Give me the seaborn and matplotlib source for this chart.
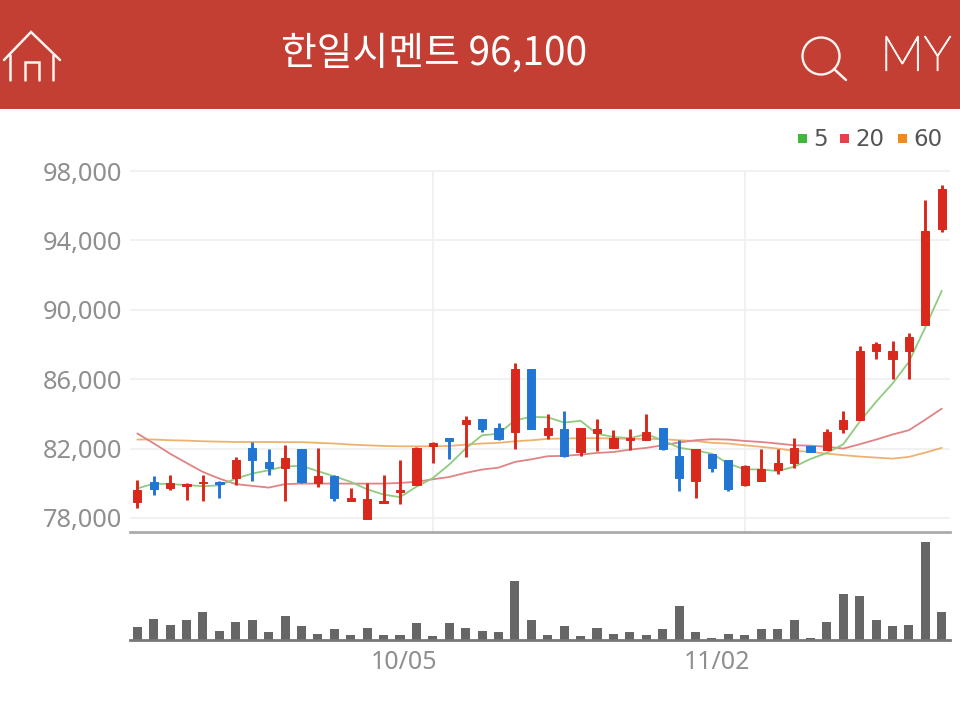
import matplotlib
matplotlib.use('Agg')
import matplotlib.pyplot as plt
import matplotlib.patheffects as pe
import matplotlib.transforms as mtrans
from matplotlib.patches import Circle, Rectangle
import numpy as np
import seaborn as sns

title = '한일시멘트 96,100'

opens = [78900, 80100, 79700, 79850, 80000, 80100, 80300, 82050, 81200, 80900,
         81950, 80000, 80400, 79000, 77950, 78850, 79500, 79900, 82150, 82600,
         83400, 83700, 83200, 82950, 86600, 82800, 83100, 81800, 82900, 82050,
         82500, 82500, 83200, 81600, 80150, 81700, 81350, 79900, 80150, 80750,
         81150, 82150, 81900, 83150, 83650, 87600, 87150, 87650, 89150, 94650]
closes = [79600, 79650, 80000, 79950, 80100, 79950, 81350, 81350, 80900, 81450,
          80100, 80400, 79150, 79150, 79100, 79000, 79600, 82050, 82300, 82450,
          83650, 83150, 82550, 86600, 83150, 83200, 81600, 83200, 83100, 82600,
          82600, 82950, 81950, 80300, 82000, 80900, 79650, 81000, 80850, 81150,
          82050, 81800, 82950, 83650, 87600, 88000, 87600, 88450, 94550, 96950]
highs = [80200, 80400, 80500, 80000, 80450, 80150, 81500, 82350, 81950, 82200,
         82000, 82050, 80450, 79700, 80000, 80450, 81350, 82100, 82350, 82600,
         83850, 83700, 83450, 86950, 86600, 84000, 84150, 83200, 83700, 83050,
         83100, 84000, 83200, 82500, 82000, 81700, 81350, 81050, 81950, 82000,
         82600, 82150, 83100, 84150, 87900, 88150, 88200, 88650, 96350, 97200]
lows = [78600, 79300, 79600, 79050, 78950, 79150, 79900, 80150, 80450, 78950,
        80000, 79800, 78950, 78950, 77950, 78850, 78800, 79900, 81150, 81400,
        81500, 82950, 82500, 81950, 83150, 82550, 81500, 81550, 81850, 82050,
        81900, 82500, 81900, 79550, 79150, 80650, 79550, 79850, 80150, 80550,
        80900, 81800, 81900, 82900, 83650, 87150, 86000, 86000, 89150, 94500]

ma5 = [79700, 79980, 79950, 79900, 79830, 79880, 80270, 80560, 80750, 80980,
       81000, 80700, 80400, 80080, 79650, 79350, 79200, 79800, 80300, 81080,
       82000, 82770, 82850, 83630, 83830, 83800, 83500, 83600, 82850, 82670,
       82600, 82830, 82480, 82050, 81900, 81700, 81130, 80800, 80800, 80700,
       80950, 81400, 81750, 82250, 83550, 84700, 85750, 87000, 89000, 91100]
ma20 = [82870, 82300, 81700, 81170, 80650, 80270, 79950, 79850, 79750, 79950,
        79980, 79980, 79980, 79980, 79980, 79980, 80020, 80080, 80230, 80360,
        80600, 80790, 80900, 81230, 81380, 81560, 81580, 81650, 81750, 81800,
        81940, 82040, 82190, 82350, 82480, 82540, 82520, 82440, 82380, 82290,
        82190, 82170, 82100, 82000, 82250, 82520, 82810, 83060, 83670, 84300]
ma60 = [82520, 82520, 82480, 82460, 82420, 82400, 82380, 82380, 82380, 82370,
        82370, 82330, 82290, 82230, 82190, 82150, 82130, 82130, 82130, 82150,
        82230, 82290, 82330, 82420, 82480, 82560, 82580, 82600, 82600, 82580,
        82560, 82560, 82540, 82480, 82440, 82330, 82290, 82190, 82100, 82000,
        81870, 81810, 81710, 81620, 81540, 81480, 81420, 81520, 81770, 82040]

volume = [38, 63, 45, 60, 85, 28, 55, 60, 24, 72, 41, 19, 32, 15, 37, 15, 15, 50, 11, 50,
          37, 28, 24, 176, 60, 15, 41, 11, 37, 19, 24, 15, 32, 102, 24, 7, 19, 15, 32, 32,
          59, 7, 55, 137, 132, 59, 41, 45, 293, 85]

price_ticks = [78000, 82000, 86000, 90000, 94000, 98000]
date_pos = [18, 37]
date_labels = ['10/05', '11/02']
legend_names = ['5', '20', '60']

W, H = 960, 707
days = np.arange(len(opens))

sns.set_style('white')
plt.rcParams['font.family'] = ['Noto Sans', 'Noto Sans CJK KR', 'DejaVu Sans']

RED = '#d9281c'
BLUE = '#2176d4'
GRID = '#f0f0f0'
TXT = '#8f8f8f'


def px_axes(fig, left, top, right, bottom):
    return fig.add_axes([left / W, 1 - bottom / H, (right - left) / W, (bottom - top) / H])


fig = plt.figure(figsize=(W / 100, H / 100), dpi=100, facecolor='white')

# price panel
ax = px_axes(fig, 130, 170, 950, 532)
ax.set_xlim(-0.445, 49.5)
ax.set_ylim(77190, 98060)
for y in price_ticks:
    ax.axhline(y, color=GRID, lw=1.3, zorder=0)
for x in date_pos:
    ax.axvline(x, color=GRID, lw=1.3, zorder=0)

sns.lineplot(x=days, y=ma60, ax=ax, color='#eeb26e', lw=1.3, zorder=2)
sns.lineplot(x=days, y=ma20, ax=ax, color='#de8484', lw=1.3, zorder=2)
sns.lineplot(x=days, y=ma5, ax=ax, color='#8fcb80', lw=1.3, zorder=2)

o, c = np.array(opens), np.array(closes)
cols = [RED if c[i] >= o[i] else BLUE for i in days]
ax.vlines(days, lows, highs, colors=cols, lw=2.1, zorder=3)
ax.bar(days, np.abs(c - o), bottom=np.minimum(o, c), width=0.5, color=cols,
       edgecolor=cols, linewidth=0.7, zorder=4)

ax.set_yticks(price_ticks)
ax.set_yticklabels([f'{v:,}' for v in price_ticks], color=TXT, fontsize=18.3)
ax.tick_params(axis='y', length=0, pad=5.5)
ax.set_xticks([])
ax.set_xlabel('')
ax.set_ylabel('')
sns.despine(ax=ax, left=True, top=True, right=True)
ax.spines['bottom'].set_color('#ababab')
ax.spines['bottom'].set_linewidth(2)

# volume panel
vax = px_axes(fig, 130, 532, 950, 640)
vax.patch.set_alpha(0)
sns.barplot(x=days, y=volume, ax=vax, color='#666666', width=0.55, native_scale=True,
            saturation=1, linewidth=0)
vax.set_xlim(-0.445, 49.5)
vax.set_ylim(0, 324)
vax.set_yticks([])
vax.set_ylabel('')
vax.set_xlabel('')
vax.set_xticks(date_pos)
vax.set_xticklabels(date_labels, color=TXT, fontsize=18, ha='right')
vax.tick_params(axis='x', length=5, width=0.8, color='#aaaaaa', pad=2)
shift = mtrans.ScaledTranslation(5 / 100, 0, fig.dpi_scale_trans)
for lab in vax.get_xticklabels():
    lab.set_transform(lab.get_transform() + shift)
sns.despine(ax=vax, left=True, top=True, right=True)
vax.spines['bottom'].set_color('#777777')
vax.spines['bottom'].set_linewidth(2)

# header and legend, in pixel coordinates
top = fig.add_axes([0, 0, 1, 1], zorder=5)
top.set_xlim(0, W)
top.set_ylim(H, 0)
top.axis('off')
top.add_patch(Rectangle((0, 0), W, 108.5, color='#c43f33', lw=0))
top.text(434, 54, title, color='white', ha='center', va='center', fontsize=28,
         family=['Noto Sans CJK KR', 'DejaVu Sans'])

ic = dict(color='#fdf3f0', lw=1.8, solid_capstyle='round', solid_joinstyle='miter')
top.plot([4, 31, 60], [60, 32, 60], **ic)
top.plot([10, 10], [55, 80], **ic)
top.plot([53, 53], [55, 80], **ic)
top.plot([25, 25, 39, 39], [80, 62, 62, 80], **ic)
top.add_patch(Circle((821, 56), 18.5, fill=False, ec='#fdf3f0', lw=1.7))
top.plot([834, 846], [69, 80], **ic)
my = top.text(916, 57, 'MY', color='#fdf3f0', ha='center', va='center', fontsize=35,
              family='Lato', weight='light')
my.set_path_effects([pe.withStroke(linewidth=1.0, foreground='#fdf3f0')])

leg_cols = ['#3fb83c', '#e8404a', '#ee8a1e']
leg_sq = [798, 840, 898]
leg_tx = [813, 855, 913]
for name, col, sx, tx in zip(legend_names, leg_cols, leg_sq, leg_tx):
    top.add_patch(Rectangle((sx, 134), 9, 9, color=col, lw=0))
    top.text(tx, 139, name, color='#555555', fontsize=16.5, ha='left', va='center',
             family='DejaVu Sans')

fig.savefig('out.png', dpi=100)
